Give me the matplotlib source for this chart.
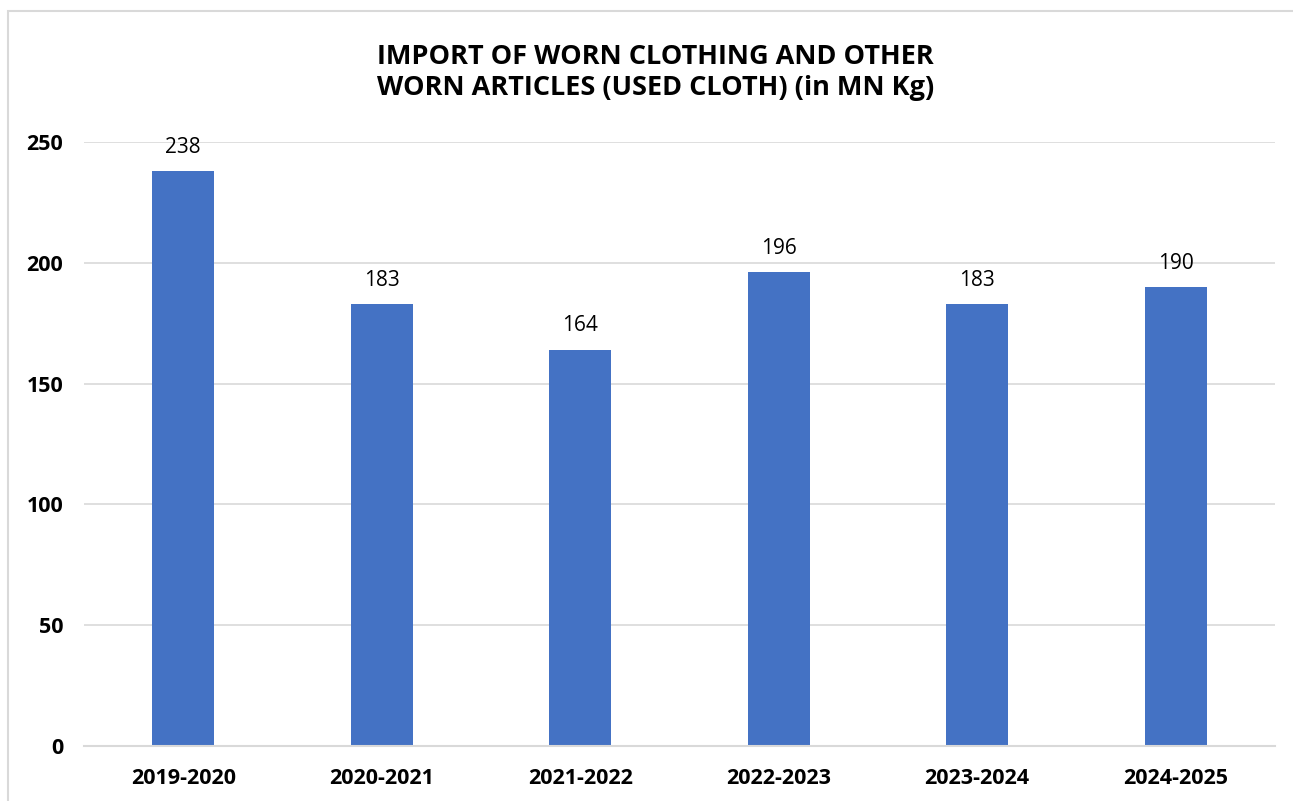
import matplotlib
matplotlib.use("Agg")
import matplotlib.pyplot as plt
import numpy as np

# chart data
years = ["2019-2020", "2020-2021", "2021-2022", "2022-2023", "2023-2024", "2024-2025"]
imports_mn_kg = [238, 183, 164, 196, 183, 190]
y_ticks = [0, 50, 100, 150, 200, 250]

plt.rcParams['font.family'] = ['Open Sans', 'DejaVu Sans']

fig = plt.figure(figsize=(12.93, 8.01), dpi=100)
ax = fig.add_axes([0.065, 0.0687, 0.921, 0.754])

x = np.arange(len(years))
ax.bar(x, imports_mn_kg, width=0.313, color="#4472C4", zorder=3)

# value labels above the bars
for xi, v in zip(x, imports_mn_kg):
    ax.text(xi, v + 5.5, str(v), ha='center', va='bottom', fontsize=15, color='black')

ax.set_xlim(-0.5, len(years) - 0.5)
ax.set_ylim(0, 250)
ax.set_yticks(y_ticks)
ax.set_yticklabels([str(t) for t in y_ticks], fontsize=15.5, fontweight='bold')
ax.set_xticks(x)
ax.set_xticklabels(years, fontsize=15.5, fontweight='bold')
ax.tick_params(axis='x', length=0, pad=16)
ax.tick_params(axis='y', length=0, pad=15)
ax.yaxis.grid(True, color="#D9D9D9", linewidth=1.2, zorder=0)
for side in ['top', 'right', 'left']:
    ax.spines[side].set_visible(False)
ax.spines['bottom'].set_color("#D9D9D9")
ax.spines['bottom'].set_linewidth(1.5)
ax.spines['bottom'].set_zorder(4)

fig.text(0.507, 0.9095, "IMPORT OF WORN CLOTHING AND OTHER\nWORN ARTICLES (USED CLOTH) (in MN Kg)",
         ha='center', va='center', fontsize=19.5, fontweight='bold', linespacing=1.28)

# light border, only left/top edges fall inside the image
border = plt.Rectangle((8 / 1293, -0.02), 1.05, 1 - 10.5 / 801 + 0.02, transform=fig.transFigure,
                       fill=False, edgecolor="#D9D9D9", linewidth=1.5)
fig.patches.append(border)

fig.savefig("out.png", dpi=100)
